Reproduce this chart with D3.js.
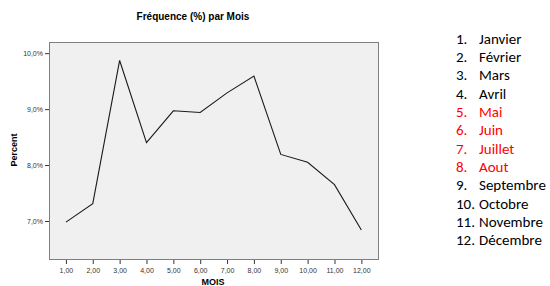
<!DOCTYPE html>
<html>
<head>
<meta charset="utf-8">
<script src="https://cdn.jsdelivr.net/npm/d3@7"></script>
<style>
  body { margin: 0; background: #fff; }
  svg { display: block; }
</style>
</head>
<body>
<svg id="chart" width="550" height="286"></svg>
<script>
// values
const months = [1, 2, 3, 4, 5, 6, 7, 8, 9, 10, 11, 12];
const percents = [6.98, 7.31, 9.87, 8.40, 8.97, 8.94, 9.29, 9.59, 8.19, 8.05, 7.65, 6.84];
const yTicks = [7, 8, 9, 10];
const monthNames = ['Janvier', 'Février', 'Mars', 'Avril', 'Mai', 'Juin', 'Juillet', 'Aout',
  'Septembre', 'Octobre', 'Novembre', 'Décembre'];
const highlighted = ['Mai', 'Juin', 'Juillet', 'Aout'];

const svg = d3.select('#chart');
const plot = { left: 49, top: 42, right: 378, bottom: 259 };

const x = d3.scaleLinear().domain([0.37, 12.62]).range([plot.left, plot.right]);
const y = d3.scaleLinear().domain([6.32, 10.2]).range([plot.bottom, plot.top]);

const fmt = v => d3.format('.2f')(v).replace('.', ',');
const fmtPct = v => d3.format('.1f')(v).replace('.', ',') + '%';

svg.append('rect')
  .attr('x', plot.left + 0.5)
  .attr('y', plot.top + 0.5)
  .attr('width', plot.right - plot.left)
  .attr('height', plot.bottom - plot.top)
  .attr('fill', '#f0f0f0')
  .attr('stroke', '#7f7f7f')
  .attr('stroke-width', 1);

// y axis
const yAxis = svg.append('g')
  .attr('transform', `translate(${plot.left},0)`)
  .call(d3.axisLeft(y).tickValues(yTicks).tickFormat(fmtPct).tickSize(4).tickPadding(2));
yAxis.select('.domain').remove();

// x axis
const xAxis = svg.append('g')
  .attr('transform', `translate(0,${plot.bottom + 1})`)
  .call(d3.axisBottom(x).tickValues(months).tickFormat(fmt).tickSize(4).tickPadding(4));
xAxis.select('.domain').remove();

svg.selectAll('.tick text')
  .attr('font-family', 'Arial, "Liberation Sans", sans-serif')
  .attr('font-size', 7)
  .attr('fill', '#333');
svg.selectAll('.tick line').attr('stroke', '#333');

const line = d3.line()
  .x((d, i) => x(months[i]))
  .y(d => y(d));

svg.append('path')
  .datum(percents)
  .attr('d', line)
  .attr('fill', 'none')
  .attr('stroke', '#1a1a1a')
  .attr('stroke-width', 1.1);

// titles
svg.append('text')
  .attr('x', 193)
  .attr('y', 20)
  .attr('text-anchor', 'middle')
  .attr('font-family', 'Arial, "Liberation Sans", sans-serif')
  .attr('font-size', 10)
  .attr('font-weight', 'bold')
  .text('Fréquence (%) par Mois');

svg.append('text')
  .attr('transform', 'translate(17,150) rotate(-90)')
  .attr('text-anchor', 'middle')
  .attr('font-family', 'Arial, "Liberation Sans", sans-serif')
  .attr('font-size', 9)
  .attr('font-weight', 'bold')
  .text('Percent');

svg.append('text')
  .attr('x', 213)
  .attr('y', 285)
  .attr('text-anchor', 'middle')
  .attr('font-family', 'Arial, "Liberation Sans", sans-serif')
  .attr('font-size', 9)
  .attr('font-weight', 'bold')
  .text('MOIS');

// month list on the right
const legend = svg.append('g')
  .selectAll('g')
  .data(monthNames)
  .enter()
  .append('g')
  .attr('transform', (d, i) => `translate(456,${38.3 + i * 18.33})`)
  .attr('fill', d => highlighted.includes(d) ? '#ff0000' : '#000')
  .attr('font-family', 'Carlito, "Open Sans", "Liberation Sans", sans-serif')
  .attr('font-size', 15);

legend.append('text')
  .attr('dy', '0.35em')
  .text((d, i) => (i + 1) + '.');

legend.append('text')
  .attr('x', 23)
  .attr('dy', '0.35em')
  .text(d => d);
</script>
</body>
</html>
